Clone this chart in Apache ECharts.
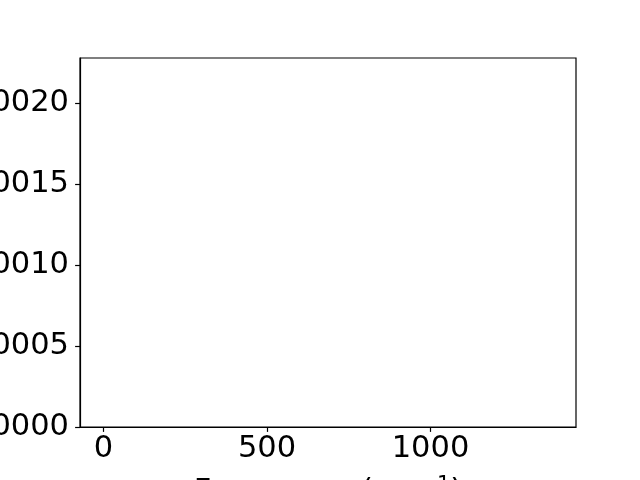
<!DOCTYPE html>
<html>
<head>
<meta charset="utf-8">
<script src="https://cdn.jsdelivr.net/npm/echarts@6/dist/echarts.min.js"></script>
<style>html,body{margin:0;padding:0;background:#fff}#c{width:640px;height:480px}</style>
</head>
<body>
<div id="c"></div>
<script>
// Data (the reference plot contains no visible data marks)
const xTicks = [0, 500, 1000];
const yTicks = [0, 0.0005, 0.001, 0.0015, 0.002];
const seriesX = [];
const seriesY = [];
const xRange = [-72, 1445];
const yRange = [0, 0.00228];

const chart = echarts.init(document.getElementById('c'), null, {renderer: 'canvas'});
const font = 'DejaVu Sans';
const fs = 30.5;
chart.setOption({
  animation: false,
  backgroundColor: '#fff',
  grid: {
    left: 80, right: 64, top: 58, bottom: 53,
    show: true, borderColor: '#000', borderWidth: 1.2,
    containLabel: false, outerBoundsMode: 'none'
  },
  xAxis: {
    type: 'value', min: xRange[0], max: xRange[1],
    splitLine: {show: false},
    axisLine: {show: true, onZero: false, lineStyle: {color: '#000', width: 1.2}},
    axisTick: {show: true, length: 4.9, lineStyle: {color: '#000', width: 1.2}, customValues: xTicks},
    axisLabel: {customValues: xTicks, color: '#000', fontFamily: font, fontSize: fs, margin: 7,
      formatter: v => String(v)},
    name: '{a|Frequency (cm}{s|−1}{a|)}',
    nameLocation: 'middle', nameGap: 48, nameMoveOverlap: false,
    nameTextStyle: {
      fontFamily: font, fontSize: fs, color: '#000',
      rich: {
        a: {fontFamily: font, fontSize: fs, color: '#000', lineHeight: 34},
        s: {fontFamily: font, fontSize: 21, color: '#000', verticalAlign: 'top', lineHeight: 17}
      }
    }
  },
  yAxis: {
    type: 'value', min: yRange[0], max: yRange[1],
    splitLine: {show: false},
    axisLine: {show: true, onZero: false, lineStyle: {color: '#000', width: 1.2}},
    axisTick: {show: true, length: 4.9, lineStyle: {color: '#000', width: 1.2}, customValues: yTicks},
    axisLabel: {customValues: yTicks, color: '#000', fontFamily: font, fontSize: fs, margin: 11,
      padding: [5, 0, 0, 0],
      formatter: v => v.toFixed(4)}
  },
  series: [{
    type: 'line', data: seriesX.map((x, i) => [x, seriesY[i]]),
    showSymbol: false, lineStyle: {color: '#1f77b4'}
  }]
});
</script>
</body>
</html>
